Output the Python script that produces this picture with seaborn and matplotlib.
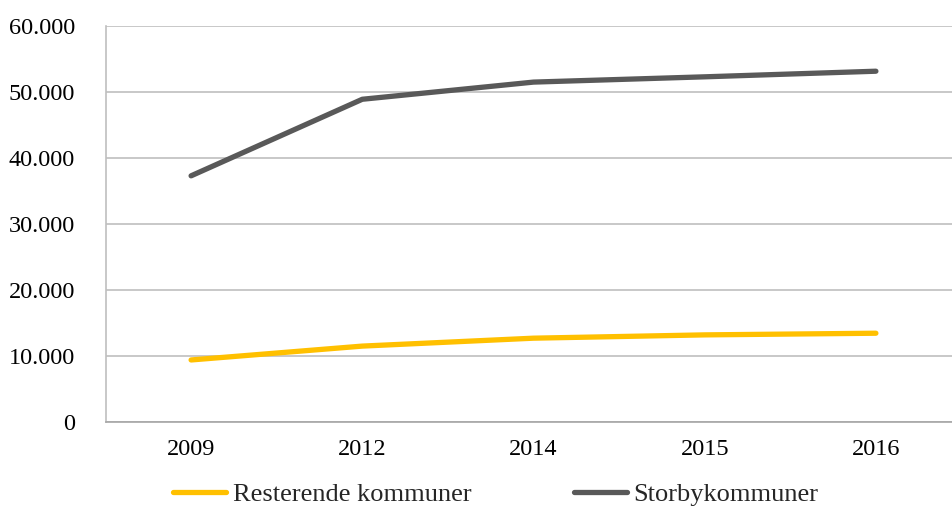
import matplotlib
matplotlib.use("Agg")
import matplotlib.pyplot as plt
import matplotlib.ticker as mticker
import seaborn as sns
import pandas as pd

years = ["2009", "2012", "2014", "2015", "2016"]
resterende = [9400, 11500, 12700, 13200, 13450]
storby = [37300, 48900, 51500, 52300, 53150]
series_names = ["Resterende kommuner", "Storbykommuner"]
colors = ["#FFC000", "#595959"]
yticks = [0, 10000, 20000, 30000, 40000, 50000, 60000]

df = pd.DataFrame({
    "year": years * 2,
    "value": resterende + storby,
    "series": [series_names[0]] * len(years) + [series_names[1]] * len(years),
})

sns.set_theme(style="white")
plt.rcParams["font.family"] = ["Liberation Serif", "DejaVu Serif"]

fig = plt.figure(figsize=(9.52, 5.07), dpi=100)
ax = fig.add_axes([105.5 / 952, 1 - 422 / 507, 856 / 952, 396 / 507])

sns.lineplot(data=df, x="year", y="value", hue="series", palette=colors,
             linewidth=3.8, sort=False, ax=ax, legend=False,
             solid_capstyle="round")

ax.set_xlim(-0.5, len(years) - 0.5)
ax.set_ylim(0, 60000)
ax.set_yticks(yticks)
ax.yaxis.set_major_formatter(mticker.FuncFormatter(
    lambda v, p: f"{int(v):,}".replace(",", ".")))
ax.grid(axis="y", color="#BFBFBF", linewidth=1.2)
ax.set_axisbelow(True)
for s in ["top", "right"]:
    ax.spines[s].set_visible(False)
ax.spines["left"].set_color("#BFBFBF")
ax.spines["left"].set_linewidth(1.2)
ax.spines["bottom"].set_color("#A6A6A6")
ax.spines["bottom"].set_linewidth(1.2)
ax.tick_params(axis="both", length=0, labelsize=17.5, colors="#000000")
ax.tick_params(axis="y", pad=22)
ax.tick_params(axis="x", pad=12)
ax.set_xlabel("")
ax.set_ylabel("")

from matplotlib.lines import Line2D
handles = [Line2D([0], [0], color=c, linewidth=3.8, solid_capstyle="round") for c in colors]
fig.legend(handles, series_names, loc="center", bbox_to_anchor=(0.521, 1 - 494 / 507),
           ncol=2, frameon=False, fontsize=19, handlelength=2.0,
           handletextpad=0.25, columnspacing=3.9)

fig.savefig("out.png", dpi=100)
